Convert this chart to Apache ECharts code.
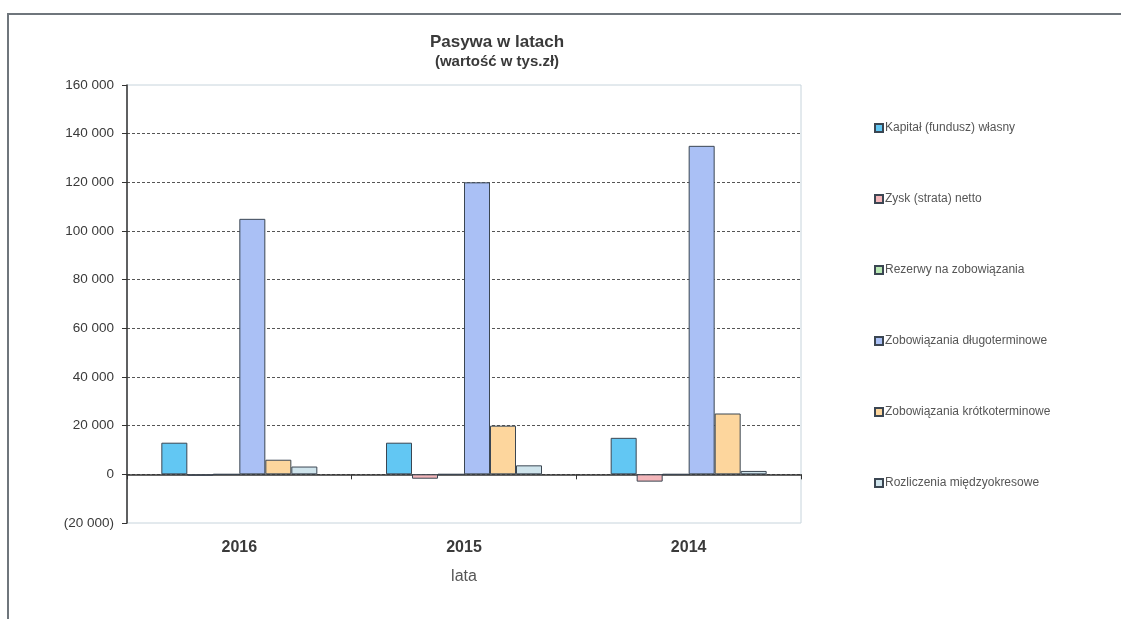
<!DOCTYPE html>
<html>
<head>
<meta charset="utf-8">
<script src="https://cdn.jsdelivr.net/npm/echarts@6/dist/echarts.min.js"></script>
<style>
  html, body { margin: 0; padding: 0; background: #fff; }
  #chart { width: 1121px; height: 619px; }
</style>
</head>
<body>
<div id="chart"></div>
<script>
// dane (tys. zł)
const years = ['2016', '2015', '2014']
const kapital = [13000, 13000, 15000]
const zysk = [-600, -1800, -3000]
const rezerwy = [0, 0, 0]
const dlugoterm = [105000, 120000, 135000]
const krotkoterm = [6000, 20000, 25000]
const rozliczenia = [3200, 3700, 1400]
const seriesNames = [
  'Kapitał (fundusz) własny',
  'Zysk (strata) netto',
  'Rezerwy na zobowiązania',
  'Zobowiązania długoterminowe',
  'Zobowiązania krótkoterminowe',
  'Rozliczenia międzyokresowe'
]
const colors = ['#62c7f3', '#f4b6ba', '#b9e8b4', '#aac0f5', '#fdd69d', '#cfe4ec']

const font = "'Liberation Sans', Arial, sans-serif"

const fmt = (v) => {
  const s = Math.abs(v).toString().replace(/\B(?=(\d{3})+(?!\d))/g, ' ')
  return v < 0 ? '(' + s + ')' : s
}

const chart = echarts.init(document.getElementById('chart'))
const allData = [kapital, zysk, rezerwy, dlugoterm, krotkoterm, rozliczenia]

chart.setOption({
  animation: false,
  textStyle: { fontFamily: font },
  color: colors,
  graphic: [{
    type: 'rect',
    shape: { x: 8, y: 14, width: 1200, height: 700 },
    style: { fill: 'none', stroke: '#6f767c', lineWidth: 2 },
    silent: true
  }],
  title: {
    text: 'Pasywa w latach',
    subtext: '(wartość w tys.zł)',
    left: 492,
    textAlign: 'center',
    top: 29,
    itemGap: 3,
    textStyle: { fontSize: 17, fontWeight: 'bold', color: '#3a3a3a', fontFamily: font },
    subtextStyle: { fontSize: 15, fontWeight: 'bold', color: '#3a3a3a', fontFamily: font }
  },
  legend: {
    orient: 'vertical',
    left: 869,
    top: 117,
    itemGap: 59,
    itemWidth: 8,
    itemHeight: 8,
    icon: 'rect',
    data: seriesNames,
    textStyle: { fontSize: 12, color: '#555', fontFamily: font, padding: [0, 0, 0, -3] }
  },
  grid: {
    left: 127,
    right: 1121 - 801,
    top: 85,
    bottom: 619 - 523,
    show: true,
    borderColor: '#c7d4dc',
    borderWidth: 1
  },
  xAxis: [{
    type: 'category',
    data: years,
    position: 'bottom',
    axisLine: { onZero: true, lineStyle: { color: '#333', width: 1.5 } },
    axisTick: { show: true, length: 5, lineStyle: { color: '#333' } },
    axisLabel: { show: false },
    splitLine: { show: false }
  }, {
    type: 'category',
    data: years,
    position: 'bottom',
    axisLine: { show: false, onZero: false },
    axisTick: { show: false },
    axisLabel: { margin: 17, fontSize: 16, fontWeight: 'bold', color: '#3a3a3a', fontFamily: font },
    name: 'lata',
    nameLocation: 'middle',
    nameGap: 46,
    nameTextStyle: { fontSize: 16, color: '#555', fontFamily: font }
  }],
  yAxis: {
    type: 'value',
    min: -20000,
    max: 160000,
    interval: 20000,
    axisLine: { show: true, lineStyle: { color: '#333', width: 1.5 } },
    axisTick: { show: true, length: 5, lineStyle: { color: '#333' } },
    axisLabel: { formatter: fmt, fontSize: 13.5, color: '#3a3a3a', margin: 13, fontFamily: font },
    splitLine: {
      show: true,
      showMinLine: false,
      showMaxLine: false,
      lineStyle: { color: '#555', type: [3, 2], width: 1 }
    }
  },
  series: seriesNames.map((name, i) => ({
    name: name,
    type: 'bar',
    xAxisIndex: 0,
    data: allData[i],
    barWidth: 26,
    barGap: 0,
    itemStyle: { color: colors[i], borderColor: '#3b4652', borderWidth: 1 }
  }))
})
</script>
</body>
</html>
